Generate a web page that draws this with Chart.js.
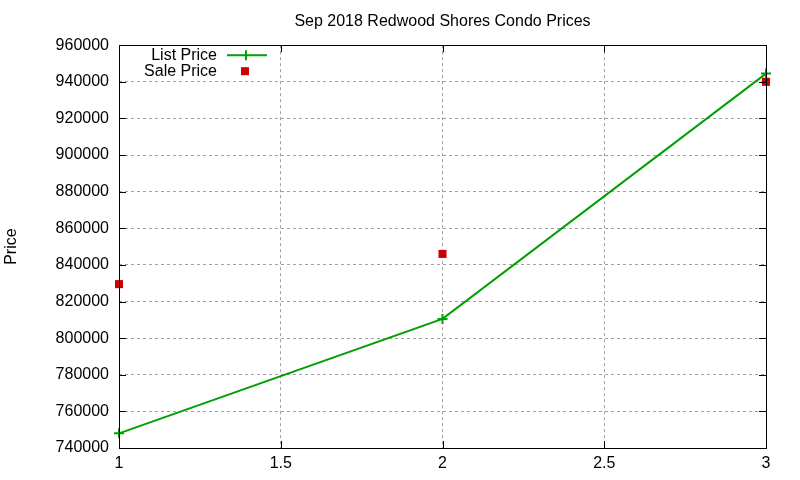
<!DOCTYPE html>
<html>
<head>
<meta charset="utf-8">
<script src="https://cdn.jsdelivr.net/npm/chart.js@4/dist/chart.umd.min.js"></script>
<style>
  html, body { margin: 0; padding: 0; background: #fff; }
  #wrap { width: 800px; height: 480px; }
</style>
</head>
<body>
<div id="wrap"><canvas id="chart"></canvas></div>
<script>
var xValues = [1, 2, 3];
var listPrice = [748000, 810500, 944500];
var salePrice = [829500, 846000, 940000];
var yTicks = [740000, 760000, 780000, 800000, 820000, 840000, 860000, 880000, 900000, 920000, 940000, 960000];
var xTicks = [1, 1.5, 2, 2.5, 3];

var FONT = '"Liberation Sans", Arial, sans-serif';
var GREEN = '#00a000';
var RED = '#cc0000';

function toPoints(xs, ys) {
    return xs.map(function(x, i) { return { x: x, y: ys[i] }; });
}

// gnuplot style frame with inward ticks on all four sides, plus the key
var framePlugin = {
    id: 'frame',
    afterDatasetsDraw: function(chart) {
        var ctx = chart.ctx;
        var a = chart.chartArea;
        var xs = chart.scales.x, ys = chart.scales.y;
        ctx.save();
        ctx.strokeStyle = '#000';
        ctx.lineWidth = 1;
        ctx.beginPath();
        ys.ticks.forEach(function(t) {
            var y = Math.round(ys.getPixelForValue(t.value)) + 0.5;
            ctx.moveTo(a.left, y); ctx.lineTo(a.left + 7, y);
            ctx.moveTo(a.right, y); ctx.lineTo(a.right - 7, y);
        });
        xs.ticks.forEach(function(t) {
            var x = Math.round(xs.getPixelForValue(t.value)) + 0.5;
            ctx.moveTo(x, a.bottom); ctx.lineTo(x, a.bottom - 7);
            ctx.moveTo(x, a.top); ctx.lineTo(x, a.top + 7);
        });
        ctx.stroke();
        ctx.strokeRect(Math.round(a.left) + 0.5, Math.round(a.top) + 0.5,
            Math.round(a.right - a.left), Math.round(a.bottom - a.top));

        // key
        ctx.font = '16px ' + FONT;
        ctx.fillStyle = '#000';
        ctx.textAlign = 'right';
        ctx.textBaseline = 'middle';
        var kx = a.left + 98, ky = a.top + 10;
        ctx.fillText(chart.data.datasets[0].label, kx, ky);
        ctx.fillText(chart.data.datasets[1].label, kx, ky + 16);
        ctx.strokeStyle = GREEN;
        ctx.lineWidth = 2;
        ctx.beginPath();
        ctx.moveTo(kx + 10, ky); ctx.lineTo(kx + 50, ky);
        ctx.moveTo(kx + 29, ky - 5); ctx.lineTo(kx + 29, ky + 5);
        ctx.stroke();
        ctx.fillStyle = RED;
        ctx.fillRect(kx + 24, ky + 12, 8, 8);
        ctx.restore();
    }
};

new Chart(document.getElementById('chart'), {
    type: 'scatter',
    data: {
        datasets: [{
            label: 'List Price',
            data: toPoints(xValues, listPrice),
            showLine: true,
            borderColor: GREEN,
            backgroundColor: GREEN,
            borderWidth: 2,
            pointStyle: 'cross',
            pointRadius: 5,
            pointBorderWidth: 2,
            clip: false
        }, {
            label: 'Sale Price',
            data: toPoints(xValues, salePrice),
            showLine: false,
            borderColor: RED,
            backgroundColor: RED,
            pointStyle: 'rect',
            pointRadius: 5.7,
            pointBorderWidth: 0,
            clip: false
        }]
    },
    options: {
        responsive: true,
        maintainAspectRatio: false,
        animation: false,
        layout: { padding: { left: 0, right: 34, top: 0, bottom: 0 } },
        plugins: {
            legend: { display: false },
            tooltip: { enabled: false },
            title: {
                display: true,
                fullSize: false,
                text: 'Sep 2018 Redwood Shores Condo Prices',
                color: '#000',
                font: { family: FONT, size: 16, weight: 'normal' },
                padding: { top: 12, bottom: 14 }
            }
        },
        scales: {
            x: {
                type: 'linear',
                min: 1,
                max: 3,
                afterBuildTicks: function(scale) {
                    scale.ticks = xTicks.map(function(v) { return { value: v }; });
                },
                afterFit: function(scale) { scale.height = 32; },
                border: { display: false, dash: [3, 3] },
                grid: {
                    color: '#a0a0a0',
                    lineWidth: 1,
                    drawTicks: false
                },
                ticks: {
                    color: '#000',
                    padding: 6,
                    font: { family: FONT, size: 16 },
                    callback: function(v) { return String(v); }
                }
            },
            y: {
                min: 740000,
                max: 960000,
                afterBuildTicks: function(scale) {
                    scale.ticks = yTicks.map(function(v) { return { value: v }; });
                },
                afterFit: function(scale) { scale.width = 119; },
                border: { display: false, dash: [3, 3] },
                grid: {
                    color: '#a0a0a0',
                    lineWidth: 1,
                    drawTicks: false
                },
                ticks: {
                    color: '#000',
                    padding: 10,
                    font: { family: FONT, size: 16 },
                    callback: function(v) { return String(v); }
                },
                title: {
                    display: true,
                    text: 'Price',
                    color: '#000',
                    font: { family: FONT, size: 16 },
                    padding: { top: 2, bottom: 0 }
                }
            }
        }
    },
    plugins: [framePlugin]
});
</script>
</body>
</html>
